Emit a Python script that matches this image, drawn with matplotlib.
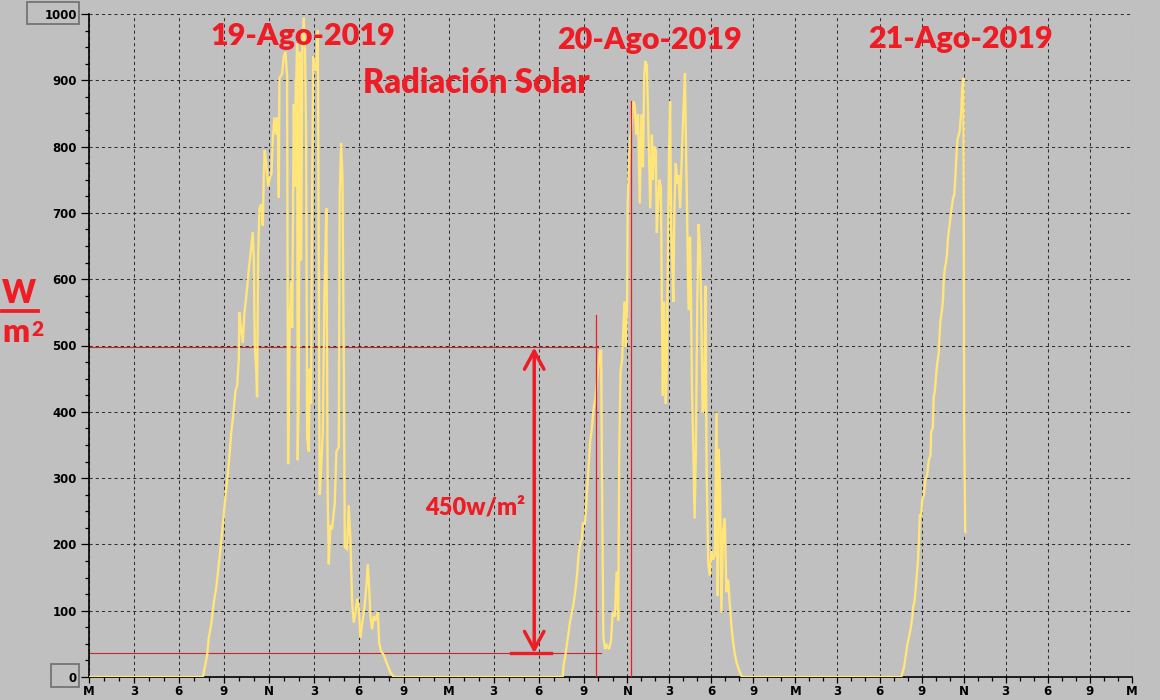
import numpy as np
import matplotlib.pyplot as plt
from matplotlib.patches import Rectangle
from matplotlib.lines import Line2D

# solar radiation, hours counted from midnight of 19-Ago-2019, values in W/m2
day1_hours = [0, 7.61, 7.89, 8.0, 8.16, 8.33, 8.51, 8.67, 8.82, 8.96, 9.07, 9.22, 9.38, 9.49,
              9.62, 9.78, 9.89, 10.0, 10.04, 10.16, 10.27, 10.38, 10.51, 10.67, 10.82, 10.93,
              11.0, 11.07, 11.16, 11.22, 11.29, 11.38, 11.51, 11.6, 11.67, 11.73, 11.84, 11.96,
              12.07, 12.18, 12.27, 12.38, 12.49, 12.6, 12.67, 12.71, 12.89, 13.0, 13.11, 13.22,
              13.29, 13.4, 13.49, 13.56, 13.67, 13.75, 13.8, 13.84, 13.89, 13.93, 14.0, 14.07,
              14.16, 14.24, 14.33, 14.42, 14.49, 14.56, 14.67, 14.73, 14.82, 14.89, 14.96, 15.04,
              15.16, 15.27, 15.36, 15.4, 15.49, 15.6, 15.71, 15.78, 15.84, 15.93, 16.0, 16.11,
              16.22, 16.4, 16.51, 16.67, 16.73, 16.82, 16.91, 17.0, 17.07, 17.22, 17.33, 17.44,
              17.56, 17.67, 17.78, 17.89, 18.0, 18.11, 18.22, 18.38, 18.51, 18.6, 18.69, 18.78,
              18.89, 19.0, 19.11, 19.27, 19.36, 19.49, 19.67, 19.89, 20.11, 20.33]
day1_wm2 = [0, 0, 33, 59, 79, 111, 137, 170, 203, 236, 262, 295, 334, 367,
            393, 432, 439, 478, 550, 524, 504, 550, 576, 615, 645, 671,
            635, 497, 465, 422, 635, 707, 713, 681, 759, 795, 772, 740,
            753, 759, 812, 844, 818, 844, 723, 903, 910, 936, 943, 907,
            321, 537, 596, 527, 864, 740, 897, 903, 956, 327, 432, 943,
            628, 956, 995, 943, 818, 360, 340, 465, 412, 727, 936, 916,
            916, 975, 445, 275, 314, 367, 576, 641, 707, 275, 170, 229,
            223, 262, 340, 347, 727, 805, 759, 484, 196, 193, 259, 209,
            111, 82, 98, 118, 105, 59, 79, 105, 137, 170, 137, 92,
            72, 92, 85, 98, 52, 39, 33, 20, 7, 0]

day2_hours = [31.6, 31.65, 31.76, 31.87, 31.98, 32.1, 32.21, 32.32, 32.43, 32.55, 32.66, 32.77,
              32.88, 32.95, 33.07, 33.16, 33.23, 33.34, 33.45, 33.56, 33.68, 33.79, 33.9, 34.0,
              34.13, 34.2, 34.26, 34.35, 34.47, 34.58, 34.74, 34.87, 34.99, 35.14, 35.26, 35.37,
              35.44, 35.53, 35.64, 35.71, 35.82, 35.89, 35.98, 36.02, 36.12, 36.21, 36.31, 36.4,
              36.52, 36.64, 36.76, 36.88, 37.0, 37.11, 37.2, 37.27, 37.39, 37.51, 37.63, 37.75,
              37.82, 37.91, 38.03, 38.1, 38.17, 38.29, 38.39, 38.46, 38.53, 38.62, 38.74, 38.81,
              38.88, 38.98, 39.05, 39.12, 39.21, 39.28, 39.35, 39.45, 39.57, 39.66, 39.76, 39.87,
              39.99, 40.11, 40.18, 40.28, 40.37, 40.47, 40.54, 40.61, 40.7, 40.8, 40.89, 40.99,
              41.08, 41.18, 41.27, 41.37, 41.46, 41.58, 41.65, 41.77, 41.88, 42.0, 42.12, 42.24,
              42.36, 42.45, 42.52, 42.62, 42.71, 42.83, 42.95, 43.07, 43.19, 43.31, 43.42, 43.54,
              43.66, 43.78, 43.96, 44.13, 44.25]
day2_wm2 = [0, 17, 30, 48, 67, 85, 97, 110, 128, 153, 184, 202,
            208, 233, 230, 251, 282, 319, 356, 375, 405, 418, 442, 467,
            492, 492, 282, 60, 42, 48, 42, 54, 97, 91, 159, 85,
            338, 461, 479, 523, 566, 498, 566, 714, 776, 813, 837, 868,
            862, 818, 849, 714, 849, 769, 904, 929, 923, 818, 707, 818,
            750, 800, 794, 670, 707, 750, 738, 566, 424, 566, 412, 467,
            615, 800, 868, 683, 621, 566, 701, 775, 744, 757, 707, 775,
            849, 911, 806, 670, 553, 664, 572, 436, 350, 239, 344, 566,
            683, 646, 559, 399, 405, 590, 319, 171, 153, 190, 177, 184,
            399, 122, 344, 282, 97, 221, 239, 128, 147, 110, 79, 54,
            36, 23, 11, 2, 0]

day3_hours = [55.56, 55.63, 55.75, 55.86, 55.98, 56.1, 56.22, 56.34, 56.41, 56.5, 56.57, 56.64,
              56.74, 56.81, 56.88, 56.98, 57.05, 57.17, 57.28, 57.4, 57.52, 57.64, 57.69, 57.81,
              57.87, 57.94, 58.04, 58.11, 58.23, 58.28, 58.35, 58.47, 58.54, 58.58, 58.65, 58.75,
              58.82, 58.89, 58.99, 59.06, 59.13, 59.25, 59.34, 59.41, 59.48, 59.57, 59.65, 59.72,
              59.77, 59.84, 59.88, 59.93, 60.0, 60.05, 60.12]
day3_wm2 = [0, 6, 15, 30, 48, 60, 72, 89, 107, 113, 131, 149,
            173, 203, 244, 244, 268, 274, 298, 304, 328, 334, 370, 376,
            423, 429, 453, 471, 489, 513, 537, 555, 572, 596, 614, 626,
            638, 662, 680, 692, 704, 722, 728, 751, 781, 811, 817, 823,
            835, 853, 877, 894, 903, 370, 218]

hour_ticks = list(range(0, 73, 3))
hour_labels = ['M', '3', '6', '9', 'N', '3', '6', '9'] * 3 + ['M']
wm2_ticks = list(range(0, 1001, 100))
dates = ['19-Ago-2019', '20-Ago-2019', '21-Ago-2019']

# marks drawn over the chart by hand
level_hi = 497
level_lo = 36
arrow_hour = 29.7
red_cut1 = (33.82, 546)
red_cut2 = (36.26, 869)

W, H = 1160, 700
BG = '#c0c0c0'
RED = '#ee1c24'
YELLOW = '#ffe57a'

# the recorder squeezes the time axis a bit after midday of the 20th
knot_h = [0, 33, 36, 72]
knot_px = [0, 494.9, 538.6, 1042.8]


def fwd(h):
    return np.interp(h, knot_h, knot_px)


def inv(p):
    return np.interp(p, knot_px, knot_h)


def fig_xy(x, y):
    """pixel position (from top-left) to figure fraction"""
    return x / W, 1 - y / H


plt.rcParams['font.family'] = ['DejaVu Sans']
fig = plt.figure(figsize=(W / 100, H / 100), dpi=100, facecolor=BG)
ax = fig.add_axes([88.8 / W, 23 / H, (1131.6 - 88.8) / W, 663 / H])
ax.set_facecolor(BG)
ax.set_xscale('function', functions=(fwd, inv))

hours = np.concatenate([day1_hours, day2_hours, day3_hours])
wm2 = np.concatenate([day1_wm2, day2_wm2, day3_wm2])
ax.plot(hours, wm2, color=YELLOW, lw=1.7, zorder=3, solid_joinstyle='miter')

ax.set_xlim(0, 72)
ax.set_ylim(0, 1000)
ax.set_xticks(hour_ticks)
ax.set_xticklabels(hour_labels)
ax.set_xticks(np.arange(0, 73, 1), minor=True)
ax.set_yticks(wm2_ticks)
ax.set_yticks(np.arange(0, 1001, 25), minor=True)

ax.grid(True, which='major', color='#303030', lw=0.75, ls=(0, (3, 3)))
ax.set_axisbelow(True)
for s in ['top', 'right']:
    ax.spines[s].set_visible(False)
for s in ['left', 'bottom']:
    ax.spines[s].set_linewidth(1.2)
    ax.spines[s].set_color('black')

ax.tick_params(axis='y', which='major', length=5.5, width=0.9, color='black', pad=3)
ax.tick_params(axis='x', which='major', length=4.5, width=0.9, color='black', pad=1)
ax.tick_params(axis='both', which='minor', length=3, width=0.9, color='black')
for lab in ax.get_xticklabels():
    lab.set_fontsize(8.5)
    lab.set_fontweight('bold')
for lab in ax.get_yticklabels():
    lab.set_fontsize(8.5)
    lab.set_fontweight('bold')

# boxes around the range labels
for (x0, y0, x1, y1) in [(27.3, 1.7, 79.3, 24.3), (51, 664.3, 79.3, 687)]:
    fx, fy = fig_xy(x0, y1)
    fig.patches.append(Rectangle((fx, fy), (x1 - x0) / W, (y1 - y0) / H,
                                 transform=fig.transFigure, fill=False,
                                 edgecolor='#6e6e6e', lw=1.2))

# red hand-drawn marks
ax.plot([0, 33.95], [level_hi, level_hi], color='#c8282a', lw=0.8, zorder=2)
ax.plot([0, 34.17], [level_lo, level_lo], color='#c8282a', lw=0.8, zorder=2)
ax.plot([red_cut1[0]] * 2, [0, red_cut1[1]], color=RED, lw=0.9, zorder=4)
ax.plot([red_cut2[0]] * 2, [0, red_cut2[1]], color=RED, lw=0.9, zorder=4)
ax.plot([28.15, 30.83], [level_lo, level_lo], color=RED, lw=2.4, zorder=4)
ax.annotate('', xy=(arrow_hour, level_hi), xytext=(arrow_hour, level_lo),
            arrowprops=dict(arrowstyle='<->,head_length=0.65,head_width=0.35',
                            color=RED, lw=2.5, shrinkA=0, shrinkB=0,
                            mutation_scale=20), zorder=5)

title_font = dict(family=['Lato', 'DejaVu Sans'], fontweight='heavy', color=RED)
for name, (x, y) in zip(dates, [(303, 45), (649, 49), (960, 48)]):
    fig.text(*fig_xy(x, y), name, ha='center', va='baseline', fontsize=22, **title_font)
fig.text(*fig_xy(476, 93), 'Radiación Solar', ha='center', va='baseline',
         fontsize=23.5, **title_font)
fig.text(*fig_xy(475, 515), '450w/m²', ha='center', va='baseline',
         fontsize=17, **title_font)

# W over m2 unit label
fig.text(*fig_xy(19, 303), 'W', ha='center', va='baseline', fontsize=23, **title_font)
fig.lines.append(Line2D([2 / W, 38 / W], [1 - 311 / H, 1 - 311 / H],
                        transform=fig.transFigure, color=RED, lw=2.7))
fig.text(*fig_xy(2, 342), 'm', ha='left', va='baseline', fontsize=23, **title_font)
fig.text(*fig_xy(31, 336), '2', ha='left', va='baseline', fontsize=15, **title_font)

fig.savefig('out.png', dpi=100, facecolor=BG)
